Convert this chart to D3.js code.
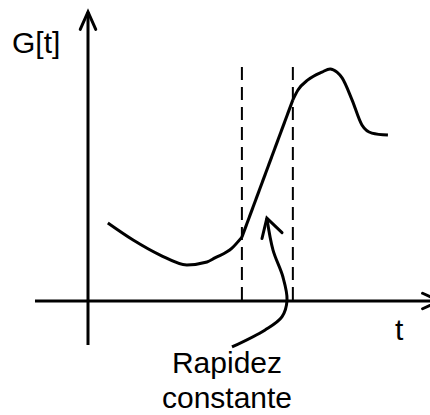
<!DOCTYPE html>
<html>
<head>
<meta charset="utf-8">
<script src="https://cdn.jsdelivr.net/npm/d3@7"></script>
<style>
  html, body { margin: 0; padding: 0; background: #fff; }
  svg { display: block; }
  text { font-family: "Liberation Sans", Arial, sans-serif; fill: #000; }
</style>
</head>
<body>
<script>
// ---- data (schematic units) ----
const curveLeftT  = [0.58, 1.32, 2.11, 2.89, 3.48, 3.71, 4.21, 4.50];
const curveLeftG  = [2.70, 2.11, 1.59, 1.25, 1.35, 1.49, 1.83, 2.21];
const curveMidT   = [4.50, 5.99];
const curveMidG   = [2.21, 6.96];
const curveRightT = [5.99, 6.14, 6.43, 6.84, 7.08, 7.28, 7.43, 7.72, 8.01, 8.30, 8.77];
const curveRightG = [6.96, 7.30, 7.65, 7.92, 8.03, 7.92, 7.72, 6.96, 6.09, 5.81, 5.74];
const dashedT = [4.50, 5.99];
const dashedTop = 8.10;
const noteT = [5.23, 5.41, 5.70, 5.82, 5.67, 5.18, 4.21];
const noteG = [2.87, 1.76, 0.83, 0.03, -0.55, -1.00, -1.59];
const xAxisExtent = [-1.55, 10.29];
const yAxisExtent = [-1.52, 10.0];
const yLabel = "G[t]";
const xLabel = "t";
const noteLines = ["Rapidez", "constante"];

const W = 430, H = 415;
const svg = d3.select("body").append("svg").attr("width", W).attr("height", H);

const x = d3.scaleLinear().domain([0, 10]).range([88, 430]);
const y = d3.scaleLinear().domain([0, 10]).range([301, 12]);

const zip = (a, b) => a.map((v, i) => [v, b[i]]);
const lineOf = c => d3.line().x(d => x(d[0])).y(d => y(d[1])).curve(c);

function arrowHead(tip, from, len, halfAngle) {
  const ang = Math.atan2(from[1] - tip[1], from[0] - tip[0]);
  const w1 = [tip[0] + len * Math.cos(ang + halfAngle), tip[1] + len * Math.sin(ang + halfAngle)];
  const w2 = [tip[0] + len * Math.cos(ang - halfAngle), tip[1] + len * Math.sin(ang - halfAngle)];
  return [w1, tip, w2];
}

// axes
const g0 = svg.append("g").attr("stroke", "#000").attr("fill", "none");
g0.append("line").attr("x1", x(xAxisExtent[0])).attr("x2", x(xAxisExtent[1]))
  .attr("y1", y(0)).attr("y2", y(0)).attr("stroke-width", 3);
g0.append("line").attr("x1", x(0)).attr("x2", x(0))
  .attr("y1", y(yAxisExtent[0])).attr("y2", y(yAxisExtent[1])).attr("stroke-width", 3);
const pline = d3.line();
g0.append("path").attr("stroke-width", 3).attr("stroke-linecap", "round")
  .attr("d", pline(arrowHead([x(0), y(yAxisExtent[1])], [x(0), y(0)], 19, 0.42)));
g0.append("path").attr("stroke-width", 3).attr("stroke-linecap", "round")
  .attr("d", pline(arrowHead([x(xAxisExtent[1]), y(0)], [x(0), y(0)], 19, 0.42)));

// dashed lines
g0.selectAll("line.dash").data(dashedT).enter().append("line")
  .attr("class", "dash")
  .attr("x1", d => x(d)).attr("x2", d => x(d))
  .attr("y1", y(dashedTop)).attr("y2", y(0))
  .attr("stroke-width", 2).attr("stroke-dasharray", "13,7");

// main curve
g0.append("path").attr("stroke-width", 3)
  .attr("d", lineOf(d3.curveMonotoneX)(zip(curveLeftT, curveLeftG)));
g0.append("path").attr("stroke-width", 3)
  .attr("d", lineOf(d3.curveLinear)(zip(curveMidT, curveMidG)));
g0.append("path").attr("stroke-width", 3)
  .attr("d", lineOf(d3.curveMonotoneX)(zip(curveRightT, curveRightG)));

// annotation arrow
g0.append("path").attr("stroke-width", 3)
  .attr("d", lineOf(d3.curveCatmullRom.alpha(0.5))(zip(noteT, noteG)));
const tip = [x(noteT[0]), y(noteG[0])];
g0.append("path").attr("stroke-width", 3).attr("stroke-linecap", "round")
  .attr("d", pline(arrowHead(tip, [tip[0] + 5, tip[1] + 17], 21, 0.52)));

// labels
svg.append("text").attr("x", 12).attr("y", 53).attr("font-size", 30).text(yLabel);
svg.append("text").attr("x", 395).attr("y", 340).attr("font-size", 30).text(xLabel);
svg.selectAll("text.note").data(noteLines).enter().append("text")
  .attr("class", "note")
  .attr("x", 227).attr("y", (d, i) => 373 + i * 35)
  .attr("text-anchor", "middle").attr("font-size", 30).text(d => d);
</script>
</body>
</html>
